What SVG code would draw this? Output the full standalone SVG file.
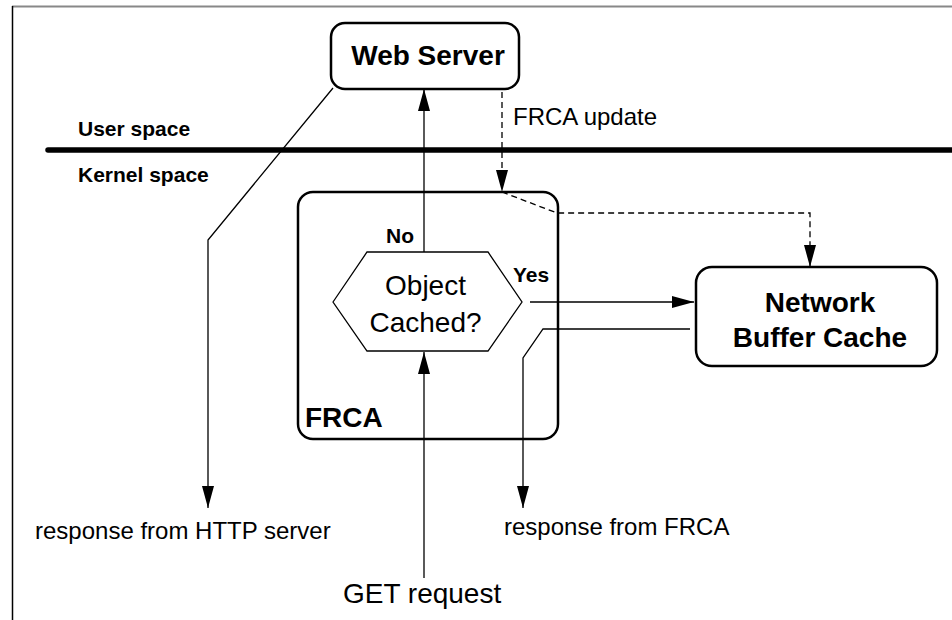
<svg xmlns="http://www.w3.org/2000/svg" width="952" height="620" viewBox="0 0 952 620">
<style>
.box{fill:#fff;stroke:#000;stroke-width:2.5}
.hex{fill:#fff;stroke:#000;stroke-width:1.3}
.ln{fill:none;stroke:#000;stroke-width:1.3}
.dash{fill:none;stroke:#000;stroke-width:1.3;stroke-dasharray:6 4}
.b{font-family:"Liberation Sans",Arial,sans-serif;font-weight:bold;fill:#000}
.r{font-family:"Liberation Sans",Arial,sans-serif;fill:#000}
</style>
<defs>
<marker id="ah" markerUnits="userSpaceOnUse" markerWidth="22" markerHeight="12" refX="22" refY="6" orient="auto">
<path d="M0,0 L22,6 L0,12 z" fill="#000"/>
</marker>
</defs>
<rect width="952" height="620" fill="#fff"/>
<g id="frame">
<line x1="12" y1="6.5" x2="952" y2="6.5" stroke="#888" stroke-width="2"/>
<line x1="12.5" y1="6" x2="12.5" y2="620" stroke="#000" stroke-width="1.5"/>
</g>
<g id="space-divider">
<line x1="48" y1="150" x2="952" y2="150" stroke="#000" stroke-width="5.5" stroke-linecap="round"/>
<text class="b" x="78" y="136" font-size="21">User space</text>
<text class="b" x="78" y="182" font-size="21">Kernel space</text>
</g>
<g id="web-server">
<rect class="box" x="331" y="23" width="188" height="66" rx="14"/>
<text class="b" x="428" y="65" font-size="28" text-anchor="middle">Web Server</text>
</g>
<g id="frca">
<rect class="box" x="298" y="192" width="260" height="247" rx="15"/>
<text class="b" x="305" y="427" font-size="28">FRCA</text>
</g>
<g id="object-cached">
<polygon class="hex" points="333,302 367,252 488,252 522,302 488,351 367,351"/>
<text class="r" x="425.5" y="295" font-size="28" text-anchor="middle">Object</text>
<text class="r" x="425.5" y="332" font-size="28" text-anchor="middle">Cached?</text>
</g>
<g id="network-buffer-cache">
<rect class="box" x="696" y="267" width="241" height="99" rx="16"/>
<text class="b" x="820" y="312" font-size="28" text-anchor="middle">Network</text>
<text class="b" x="820" y="347" font-size="28" text-anchor="middle">Buffer Cache</text>
</g>
<g id="connectors">
<line class="ln" x1="424" y1="252" x2="424" y2="89" marker-end="url(#ah)"/>
<polyline class="ln" points="333,88 208,240 208,508" marker-end="url(#ah)"/>
<line class="dash" x1="502" y1="92" x2="502" y2="192" marker-end="url(#ah)"/>
<polyline class="dash" points="502,192 557,213 810,213 810,267" marker-end="url(#ah)"/>
<line class="ln" x1="530" y1="302" x2="694" y2="302" marker-end="url(#ah)"/>
<polyline class="ln" points="690,329 543,329 523,358 523,508" marker-end="url(#ah)"/>
<line class="ln" x1="424" y1="578" x2="424" y2="352" marker-end="url(#ah)"/>
</g>
<g id="labels">
<text class="r" x="513" y="125" font-size="24">FRCA update</text>
<text class="b" x="386" y="243" font-size="21">No</text>
<text class="b" x="513" y="282" font-size="21">Yes</text>
<text class="r" x="35" y="539" font-size="24">response from HTTP server</text>
<text class="r" x="504" y="535" font-size="24">response from FRCA</text>
<text class="r" x="343" y="603" font-size="28">GET request</text>
</g>
</svg>
